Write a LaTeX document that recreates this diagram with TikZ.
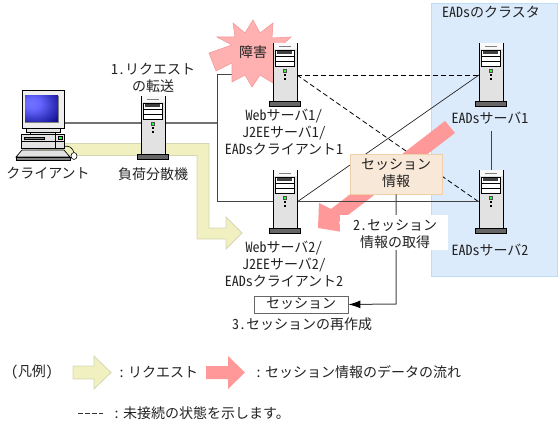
\documentclass[tikz,border=0pt]{standalone}
\usepackage{fontspec}
\setmainfont[RawFeature=+hwid]{Noto Sans CJK JP}
\usetikzlibrary{arrows.meta}
\definecolor{clusterfill}{HTML}{DCEBFC}
\definecolor{clusterline}{HTML}{BBDDF5}
\definecolor{yellowfill}{HTML}{F0F0C0}
\definecolor{yellowline}{HTML}{D6D6B4}
\definecolor{pinkfill}{HTML}{FF9999}
\definecolor{starfill}{HTML}{FFB0B0}
\definecolor{starline}{HTML}{F49A9A}
\definecolor{infofill}{HTML}{F8E8D8}
\definecolor{infoline}{HTML}{F0D0A8}
\definecolor{bodygray}{HTML}{E2E2E2}
\definecolor{basegray}{HTML}{666666}
\definecolor{linegray}{HTML}{444444}
\definecolor{txt}{HTML}{222222}
\pgfdeclareradialshading{screenglow}{\pgfpoint{-16bp}{12bp}}{color(0bp)=(blue!55!white);color(12bp)=(blue!60!white);color(48bp)=(blue!50!black);color(100bp)=(blue!45!black)}
\tikzset{
  lbl/.style={font=\fontsize{14}{17}\selectfont,text=txt,align=center,inner sep=0pt},
  lbll/.style={lbl,anchor=west},
  conn/.style={draw=linegray,line width=1pt},
  thickconn/.style={draw=gray!90!black,line width=1.6pt},
  thinconn/.style={draw=black!85,line width=0.7pt},
  dashconn/.style={draw=black,line width=0.8pt,dash pattern=on 5pt off 3pt},
  srvbody/.style={draw=black,fill=bodygray,line width=0.7pt,minimum width=24pt,minimum height=58pt,inner sep=0pt,anchor=north west},
  yellowarrow/.style={draw=yellowline,fill=yellowfill,line width=0.8pt},
  pinkarrow/.style={fill=pinkfill},
}
\newcommand{\srv}[3]{%
  \begin{scope}[shift={(#2,#3)}]
    \fill[basegray] (-3.3,58) rectangle (27,63.5);
    \draw[black,line width=0.5pt] (-3.3,58) rectangle (27,63.5);
    \node[srvbody] (#1) at (0,0) {};
    \fill[white!80!bodygray] (0.5,0.5) rectangle (23.5,6);
    \draw[gray,line width=0.6pt] (6,3.5) -- (18,3.5);
    \draw[black,fill=white,line width=0.6pt] (2.5,7) rectangle (21,23);
    \fill[black!75] (4,8.5) rectangle (19,11.5);
    \draw[black,line width=0.5pt] (2.5,13) -- (21,13) (2.5,18) -- (21,18);
    \draw[black!70,fill=green!80!white,line width=0.4pt] (10.5,26) rectangle (13.5,29);
    \fill[black] (11,31) rectangle (13,33);
    \fill[black] (11,35) rectangle (13,37);
    \coordinate (#1-l) at (0,32);
    \coordinate (#1-r) at (24,32);
    \coordinate (#1-t) at (12.5,0);
  \end{scope}}
\begin{document}
\begin{tikzpicture}[x=1pt,y=-1pt]
\useasboundingbox (0,0) rectangle (560,425);
% cluster
\draw[draw=clusterline,fill=clusterfill,line width=0.9pt] (431,3.5) rectangle (557.5,276);
% request arrow
\draw[yellowarrow] (38,143.5) -- (209,143.5) -- (209,228) -- (226,228) -- (226,217) -- (242,233) -- (226,249) -- (226,239) -- (197,239) -- (197,155.5) -- (38,155.5) -- cycle;
% coordinates fixed by servers, drawn later
\coordinate (bend1) at (217,75);
\coordinate (bend2) at (217,202);
\coordinate (lbjoin) at (217,123);
\coordinate (web1r) at (297,75);
\coordinate (web1l) at (273,75);
\coordinate (web2l) at (273,202);
\coordinate (web2r) at (297,202);
\coordinate (eads1l) at (479,75);
\coordinate (eads2l) at (479,202);
\coordinate (pcr) at (64,123);
% connectors under arrow
\draw[thickconn] (pcr) -- (lbjoin);
\draw[conn] (web1l) -- (bend1) -- (bend2) -- (web2l);
\draw[dashconn] (web1r) -- (eads1l);
\draw[dashconn] (web1r) -- (eads2l);
\draw[thinconn] (web2r) -- (eads1l);
% data flow arrow
\fill[pinkarrow] (455,133) -- (445,121) -- (331,209) -- (319,203) -- (318,228) -- (342,232) -- (339,222) -- cycle;
\draw[conn] (web2r) -- (eads2l);
% failure burst
\draw[draw=starline,fill=starfill,line width=0.6pt] (209,53) -- (232,45) -- (217,37) -- (235,37) -- (233,23) -- (245,33) -- (253,20) -- (260,33) -- (273,23) -- (272,38) -- (291,37) -- (280,47) -- (298,53) -- (282,60) -- (291,70) -- (275,68) -- (273,83) -- (260,75) -- (252,87) -- (245,75) -- (232,82) -- (232,63) -- (216,71) -- cycle;
\node[lbl] (fail) at (253,52) {障害};
% servers
\srv{lb}{141}{96}
\srv{web1}{273}{43}
\srv{web2}{273}{170}
\srv{eads1}{479}{43}
\srv{eads2}{479}{170}
% client PC
\draw[black,line width=0.6pt] (64,146.5) .. controls (69,145) and (73,148) .. (74,153);
\draw[black,fill=white,line width=0.6pt] (74,156) ellipse (3 and 3.5);
\draw[black,fill=bodygray,line width=0.7pt] (30,132) rectangle (55,134.5);
\draw[black,fill=bodygray,line width=0.7pt] (26.5,128.5) rectangle (60,132);
\node[draw=black,fill=bodygray!60!white,line width=0.8pt,minimum width=42.5pt,minimum height=38.5pt,inner sep=0pt,anchor=north west] (client) at (21.7,90) {};
\shade[shading=screenglow] (25,96) rectangle (58,122);
\draw[black!50,line width=0.5pt] (25,122) -- (58,122) -- (58,96);
\draw[black,fill=bodygray,line width=0.7pt] (21,134.5) rectangle (64.5,148);
\draw[black,line width=0.6pt] (21,141) -- (64.5,141) (55,134.5) -- (55,148);
\draw[black,fill=gray,line width=0.5pt] (24,137) rectangle (44,139.5);
\draw[black,fill=green!80!white,line width=0.5pt] (58,136.5) rectangle (62,139.5);
\draw[black,fill=bodygray,line width=0.7pt] (16,157) -- (22,150) -- (64,150) -- (70,157) -- cycle;
\draw[black,fill=gray,line width=0.5pt] (16,157) rectangle (70,160);
% information source box and links
\draw[conn] (eads1-t |- 0,131) -- (eads2-t);
\node[draw=infoline,fill=infofill,line width=0.9pt,minimum width=92pt,minimum height=40pt,inner sep=0pt] (info) at (396,174) {};
\node[lbl] (infot) at (396,173.5) {セッション\\情報};
\node[draw=black!60,fill=white,line width=0.9pt,minimum width=94pt,minimum height=17pt,inner sep=0pt] (sess) at (301,304.5) {};
\node[lbl] (sesst) at (301,304) {セッション};
\coordinate (elbow) at (396,304);
\draw[conn,-{Latex[black,length=12pt,width=8pt]}] (info.south) -- (elbow) -- (sess.east);
\node[fill=white,minimum width=108pt,minimum height=35pt,inner sep=0pt] (stepbg) at (394,232.5) {};
\node[lbl] (step2) at (395,234.5) {2.セッション\\情報の取得};
% labels
\node[lbl] (step1) at (153,78) {1.リクエスト\\の転送};
\node[lbl] (clientt) at (48,173) {クライアント};
\node[lbl] (lbt) at (153,174) {負荷分散機};
\node[lbl] (web1t) at (284,132) {Webサーバ1/\\J2EEサーバ1/\\EADsクライアント1};
\node[lbl] (web2t) at (284,264) {Webサーバ2/\\J2EEサーバ2/\\EADsクライアント2};
\node[lbl] (step3) at (302,324) {3.セッションの再作成};
\node[lbl] (cluster) at (491,12) {EADsのクラスタ};
\node[lbl] (eads1t) at (490,118) {EADsサーバ1};
\node[lbl] (eads2t) at (490,250) {EADsサーバ2};
% legend
\node[lbl] (legend) at (32,372) {（凡例）};
\draw[yellowarrow] (73,366) -- (94,366) -- (94,356) -- (111,372.5) -- (94,389) -- (94,379) -- (73,379) -- cycle;
\node[lbll] (leg1) at (118,372) {:\hspace{3pt}リクエスト};
\fill[pinkarrow] (206,366) -- (228,366) -- (228,356) -- (245,372.5) -- (228,389) -- (228,379) -- (206,379) -- cycle;
\node[lbll] (leg2) at (255,372) {:\hspace{3pt}セッション情報のデータの流れ};
\coordinate (dashA) at (78,413);
\coordinate (dashB) at (103,413);
\draw[draw=black!80,line width=0.8pt,dash pattern=on 4.5pt off 2.5pt] (dashA) -- (dashB);
\node[lbll] (leg3) at (113,413) {:\hspace{3pt}未接続の状態を示します。};
\end{tikzpicture}
\end{document}
